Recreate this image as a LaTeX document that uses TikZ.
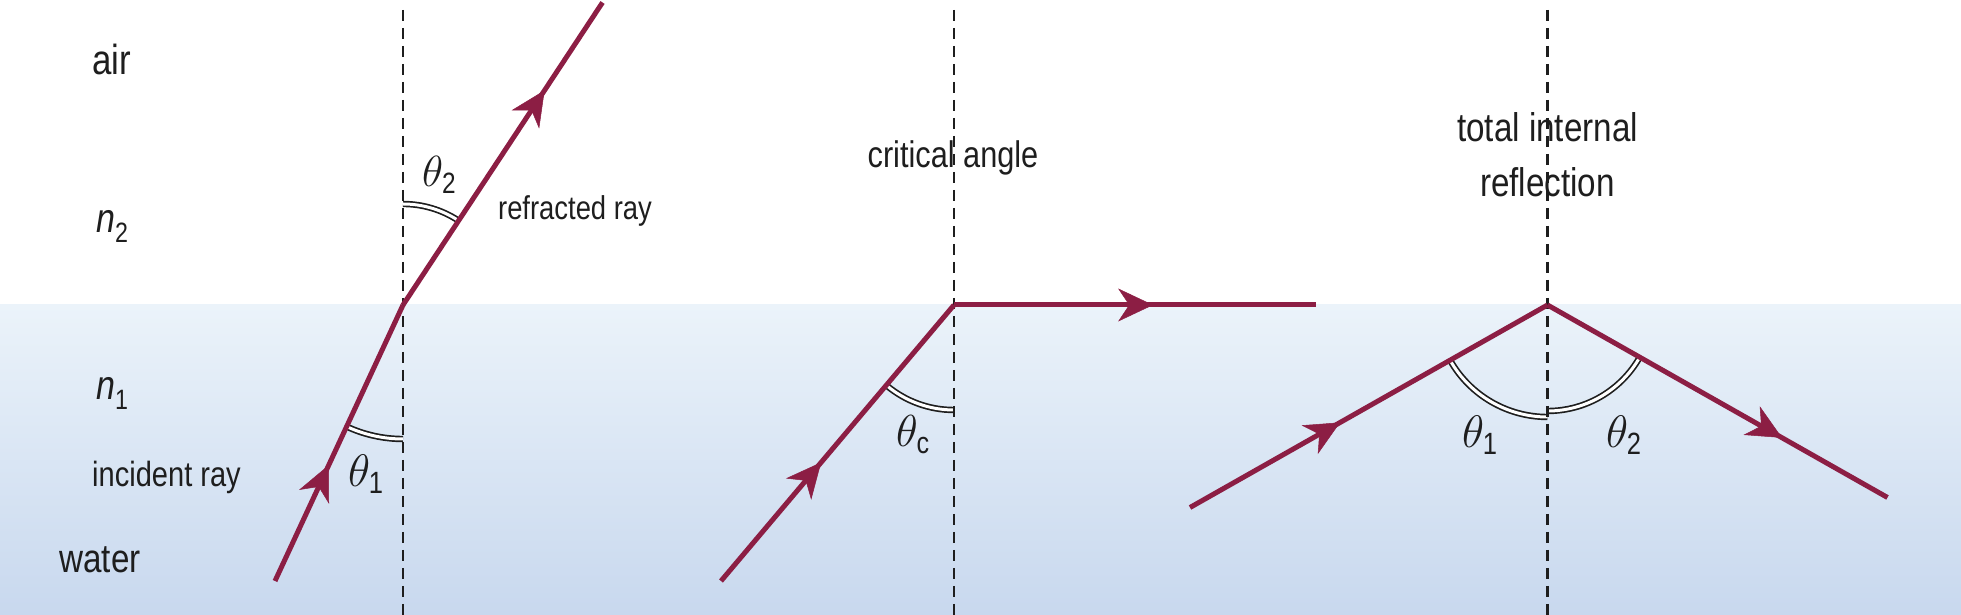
\documentclass[tikz,border=0pt]{standalone}
\usepackage{amsmath}
\usepackage{fontspec}
\setmainfont[FakeStretch=0.83]{Liberation Sans}
\usetikzlibrary{arrows.meta,decorations.markings}
\definecolor{raycol}{RGB}{140,30,68}
\definecolor{wtop}{RGB}{235,243,250}
\definecolor{wbot}{RGB}{200,216,238}
\definecolor{ink}{RGB}{30,30,30}
\newcommand{\fs}[1]{\fontsize{#1}{#1}\selectfont}
\newcommand{\thetsub}[2]{\scalebox{#1}{\fs{24}$\theta_{\text{#2}}$}}
\tikzset{
 raypath/.style={draw=raycol, line width=5pt},
 arrowat/.style={postaction={decorate}, decoration={markings, mark=at position #1 with {\arrow[color=raycol,line width=0.5pt]{Stealth[length=35pt,width=33pt,inset=11pt]}}}},
 normalline/.style={dash pattern=on 11pt off 7pt, line width=2.3pt, draw=ink},
 anglearc/.style={double=white, double distance=3pt, line width=1.7pt, draw=ink},
 lbl/.style={text=ink, inner sep=0pt, anchor=base},
 tlbl/.style={text=ink, inner sep=0pt, anchor=base west},
}
\begin{document}
\begin{tikzpicture}[x=1pt,y=1pt]
\useasboundingbox (0,0) rectangle (1961,615);
\shade[top color=wtop, bottom color=wbot] (0,0) rectangle (1961,310);

% coordinates
\coordinate (O1) at (403,310);
\coordinate (S1) at (275,34);
\coordinate (E1) at (602.5,612.5);
\coordinate (N1t) at (403,605);
\coordinate (N1b) at (403,0);

\coordinate (O2) at (954,310);
\coordinate (S2) at (721,34);
\coordinate (E2) at (1316,310);
\coordinate (N2t) at (954,605);
\coordinate (N2b) at (954,0);

\coordinate (O3) at (1547.5,310);
\coordinate (S3) at (1190,107.5);
\coordinate (E3) at (1887.5,117.5);
\coordinate (N3t) at (1547.5,605);
\coordinate (N3b) at (1547.5,0);

% angle arcs
\draw[anglearc] (O1) ++(270:134) arc[start angle=270, end angle=245.1, radius=134];
\draw[anglearc] (O1) ++(90:101) arc[start angle=90, end angle=56.6, radius=101];
\draw[anglearc] (O2) ++(270:105) arc[start angle=270, end angle=229.8, radius=105];
\draw[anglearc] (O3) ++(209.5:112) arc[start angle=209.5, end angle=270, radius=112];
\draw[anglearc] (O3) ++(270:106) arc[start angle=270, end angle=330.5, radius=106];

% normals
\draw[normalline] (N1t) -- (N1b);
\draw[normalline] (N2t) -- (N2b);
\draw[normalline] (N3t) -- (N3b);

% rays
\draw[raypath, arrowat=0.42] (S1) -- (O1);
\draw[raypath, arrowat=0.71] (O1) -- (E1);
\draw[raypath, arrowat=0.43] (S2) -- (O2);
\draw[raypath, arrowat=0.55] (O2) -- (E2);
\draw[raypath, arrowat=0.42] (S3) -- (O3);
\draw[raypath, arrowat=0.69] (O3) -- (E3);

% labels
\node[lbl, font=\fs{42}] (air) at (111.5,540) {air};
\node[lbl, font=\fs{40}] (water) at (100,42) {water};
\node[lbl, font=\fs{35}] (inc) at (166.5,128) {incident ray};
\node[lbl, font=\fs{33}] (refr) at (575,395) {refracted ray};
\node[lbl, font=\fs{37}] (crit) at (953,447) {critical angle};
\node[lbl, font=\fs{40}] (tir1) at (1547.5,473) {total internal};
\node[lbl, font=\fs{40}] (tir2) at (1547.5,418) {reflection};
\node[text=ink, inner sep=0pt, anchor=base west, font=\fs{41}] (n2) at (96,382) {\textit{n}\raisebox{-10pt}{\fs{28}2}};
\node[text=ink, inner sep=0pt, anchor=base west, font=\fs{41}] (n1) at (96,215) {\textit{n}\raisebox{-10pt}{\fs{28}1}};
\node[tlbl] (t2a) at (422,428) {\thetsub{1.75}{2}};
\node[tlbl] (t1a) at (348,128) {\thetsub{1.83}{1}};
\node[tlbl] (tc) at (896,168) {\thetsub{1.8}{c}};
\node[tlbl] (t1b) at (1462,167) {\thetsub{1.83}{1}};
\node[tlbl] (t2b) at (1606,167) {\thetsub{1.83}{2}};
\end{tikzpicture}
\end{document}
